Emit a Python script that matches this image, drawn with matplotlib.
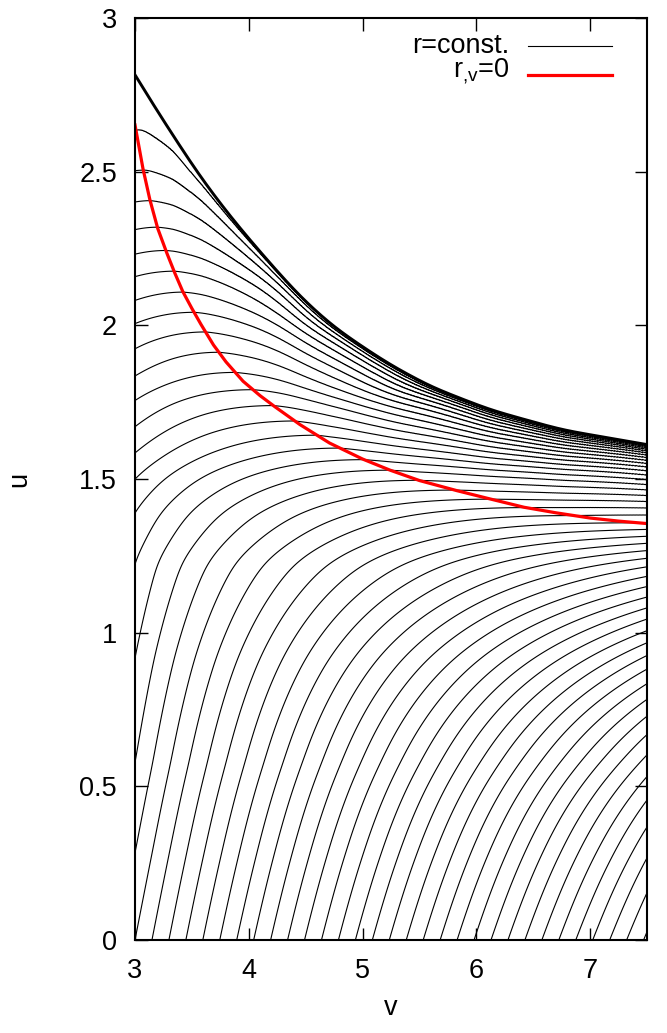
import numpy as np
import matplotlib
matplotlib.use("Agg")
import matplotlib.pyplot as plt

plt.rcParams['font.family'] = ['Liberation Sans', 'DejaVu Sans']
plt.rcParams['mathtext.default'] = 'regular'

# red curve r_{,v}=0
horizon_v = [3.0, 3.07, 3.13, 3.2, 3.28, 3.35, 3.42, 3.5, 3.58, 3.69, 3.8, 3.95, 4.1,
             4.23, 4.45, 4.71, 5.0, 5.24, 5.5, 5.83, 6.1, 6.42, 6.7, 7.0, 7.25, 7.5]
horizon_u = [2.652, 2.51, 2.41, 2.315, 2.235, 2.17, 2.11, 2.055, 2.003, 1.936, 1.881, 1.818, 1.771,
             1.735, 1.677, 1.617, 1.565, 1.529, 1.495, 1.462, 1.437, 1.408, 1.39, 1.373, 1.363, 1.355]

# upper edge of the region covered by the r=const. lines
edge_v = [3.0, 3.19, 3.57, 3.86, 4.16, 4.45, 4.74, 5.0, 5.24, 5.6, 6.12, 6.75, 7.5]
edge_u = [2.815, 2.70, 2.484, 2.343, 2.213, 2.093, 1.996, 1.93, 1.872, 1.80, 1.725, 1.66, 1.612]

# u where the r=const. lines cut the left axis v=3 (top line first, last one is the corner)
left_u = [2.63, 2.50, 2.40, 2.31, 2.23, 2.16, 2.08, 2.007, 1.925, 1.833, 1.757, 1.670,
          1.584, 1.503, 1.394, 1.23, 0.918, 0.576, 0.283, 0.0]
# distance in v between the lines along the bottom axis u=0
bottom_step = 0.149
n_levels = 50


def smooth(y, step, width):
    n = int(3 * width / step)
    k = np.exp(-0.5 * (np.arange(-n, n + 1) * step / width) ** 2)
    k /= k.sum()
    return np.convolve(np.pad(y, n, mode='reflect', reflect_type='odd'), k, mode='valid')


# ---- level field r(u,v) in units of the contour step ----
du = 0.0025
uu = np.arange(0, 2.9 + du / 2, du)
knot_u = np.array(left_u[::-1] + [edge_u[0], 2.95])
knot_r = np.array(list(range(len(left_u), 0, -1)) + [0.0, -0.8], dtype=float)
r0 = smooth(np.interp(uu, knot_u, knot_r), du, 0.03)

rho = np.exp(-(uu / 1.9) ** 3)
bottom_rate = 1.0 / bottom_step
eps = 0.02


def rate(r, v):
    rh = np.interp(np.interp(v, horizon_v, horizon_u), uu, r)
    g0 = bottom_rate / (1.0 - rh / r[0])
    return g0 * rho * (1.0 - rh / r)


dv = 0.0025
vv = np.arange(3.0, 7.5 + dv / 2, dv)
field = np.empty((len(vv), len(uu)))
r = r0.copy()
r[~(r > eps)] = np.nan
for i, v in enumerate(vv):
    field[i] = r
    k1 = rate(r, v)
    mid = r + 0.5 * dv * k1
    mid[~(mid > eps)] = np.nan
    k2 = rate(mid, v + dv / 2)
    r = r + dv * k2
    r[~(r > eps)] = np.nan

# stretch the band between the red curve and the last living point onto the upper edge
hv = np.interp(vv, horizon_v, horizon_u)
ev = smooth(np.interp(vv, edge_v, edge_u), dv, 0.12)
warped = np.full_like(field, np.nan)
for i in range(len(vv)):
    row = field[i]
    alive = np.nonzero(np.isfinite(row))[0]
    top = uu[alive[-1]]
    src = uu.copy()
    up = uu > hv[i]
    src[up] = hv[i] + (uu[up] - hv[i]) * (top - hv[i]) / (ev[i] - hv[i])
    new = np.interp(src, uu, np.where(np.isfinite(row), row, 0.0))
    new[uu > ev[i]] = np.nan
    new[src > top] = np.nan
    warped[i] = new

warped = np.ma.masked_invalid(warped)

fig = plt.figure(figsize=(6.67, 10.33), dpi=100)
ax = fig.add_axes([135 / 667, 93 / 1033, 512 / 667, 922 / 1033])

ax.contour(vv, uu, warped.T, levels=np.arange(1, n_levels + 1), colors='k', linewidths=0.8)
ax.plot(vv, ev, color='k', lw=2.1)
ax.plot(horizon_v, horizon_u, color='red', lw=2.3)

ax.set_xlim(3, 7.5)
ax.set_ylim(0, 3)
ax.set_xticks([3, 4, 5, 6, 7])
ax.set_yticks([0, 0.5, 1, 1.5, 2, 2.5, 3])
ax.set_yticklabels(['0', '0.5', '1', '1.5', '2', '2.5', '3'])
ax.tick_params(direction='in', length=9, width=1.0, top=True, right=True,
               labelsize=19.5, pad=13)
for s in ax.spines.values():
    s.set_linewidth(1.5)
ax.set_xlabel('v', fontsize=19.5, labelpad=8)
ax.set_ylabel('u', fontsize=19.5, labelpad=34)

# key, gnuplot style: text on the left, sample on the right
ax.text(0.732, 0.970, 'r=const.', transform=ax.transAxes, ha='right', va='center', fontsize=19.5)
ax.plot([0.768, 0.932], [0.970, 0.970], transform=ax.transAxes, color='k', lw=0.8)
ax.text(0.732, 0.942, 'r$_{{,}v}$=0', transform=ax.transAxes, ha='right', va='center', fontsize=19.5)
ax.plot([0.768, 0.932], [0.938, 0.938], transform=ax.transAxes, color='red', lw=2.3)

fig.savefig('out.png', dpi=100)
